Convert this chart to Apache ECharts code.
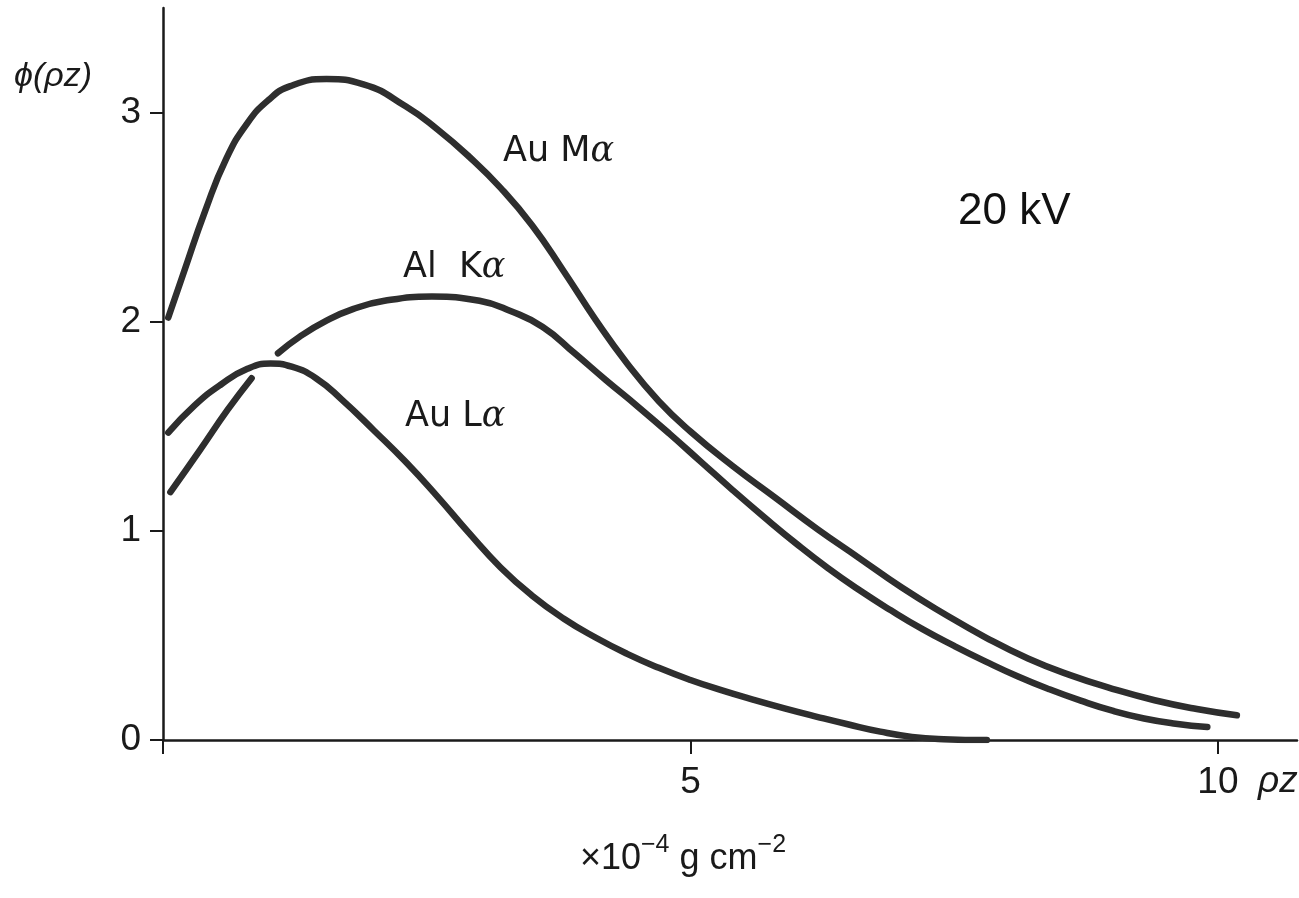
<!DOCTYPE html>
<html><head><meta charset="utf-8">
<script src="https://cdn.jsdelivr.net/npm/echarts@6/dist/echarts.min.js"></script>
<style>html,body{margin:0;padding:0;background:#fff}#c{width:1299px;height:898px}</style>
</head><body><div id="c"></div>
<script>
// depth rho*z (x10^-4 g cm^-2) vs phi(rho z)
const auMa = [[0.05,2.02],[0.2,2.24],[0.4,2.53],[0.6,2.78],[0.8,2.95],[1.0,3.06],[1.2,3.125],[1.55,3.16],[1.9,3.135],[2.3,3.03],[2.6,2.92],[2.9,2.79],[3.2,2.64],[3.5,2.46],[3.8,2.24],[4.1,2.01],[4.4,1.80],[4.7,1.62],[5.0,1.475],[5.4,1.31],[5.8,1.16],[6.2,1.01],[6.6,0.87],[7.0,0.73],[7.4,0.605],[7.8,0.49],[8.2,0.39],[8.6,0.31],[9.0,0.245],[9.4,0.19],[9.8,0.148],[10.18,0.118]];
const alKaNear = [[0.07,1.185],[0.35,1.386],[0.61,1.577],[0.84,1.73]];
const alKa = [[1.09,1.849],[1.3,1.93],[1.55,2.005],[1.8,2.06],[2.1,2.10],[2.55,2.12],[3.0,2.10],[3.3,2.05],[3.6,1.975],[3.9,1.85],[4.2,1.72],[4.5,1.595],[4.8,1.465],[5.1,1.33],[5.4,1.195],[5.7,1.065],[6.0,0.94],[6.3,0.823],[6.6,0.717],[6.9,0.62],[7.2,0.53],[7.5,0.45],[7.8,0.375],[8.1,0.305],[8.4,0.243],[8.7,0.188],[9.0,0.14],[9.3,0.103],[9.6,0.078],[9.9,0.062]];
const auLa = [[0.05,1.47],[0.3,1.60],[0.55,1.70],[0.8,1.775],[1.02,1.80],[1.22,1.785],[1.45,1.73],[1.7,1.625],[2.0,1.48],[2.3,1.33],[2.6,1.165],[2.9,0.99],[3.2,0.825],[3.5,0.69],[3.8,0.58],[4.1,0.49],[4.4,0.412],[4.7,0.345],[5.0,0.287],[5.3,0.237],[5.6,0.192],[5.9,0.150],[6.2,0.111],[6.5,0.074],[6.8,0.040],[7.1,0.015],[7.4,0.004],[7.81,0.0]];
const xTickValues = [0,5,10];
const xLabelValues = [5,10];
const yTickValues = [0,1,2,3];
const yLabelValues = [0,1,2,3];

const chart = echarts.init(document.getElementById('c'), null, {renderer:'canvas'});
const curveStyle = {color:'#2e2e2e', width:6.5, cap:'round', join:'round'};
function curve(name, data){
  return {type:'line', name, data, smooth:0.5, showSymbol:false, symbol:'none',
    lineStyle:curveStyle, itemStyle:{color:'#2e2e2e'}, z:3, animation:false};
}
const lab = {fontFamily:'DejaVu Sans', fontSize:35, fill:'#1a1a1a'};
const greek = {fontFamily:'DejaVu Serif', fontStyle:'italic', fontSize:35, fill:'#1a1a1a'};
chart.setOption({
  animation:false,
  backgroundColor:'#fff',
  grid:{left:163, right:2, top:8, bottom:158, containLabel:false},
  xAxis:{type:'value', min:0, max:10.75,
    axisLine:{show:true, onZero:false, lineStyle:{color:'#1a1a1a', width:2.5}},
    axisTick:{show:true, customValues:xTickValues, length:14, lineStyle:{color:'#1a1a1a', width:2}},
    axisLabel:{show:true, customValues:xLabelValues, margin:24, fontSize:37, color:'#1a1a1a', fontFamily:'Liberation Sans'},
    splitLine:{show:false}},
  yAxis:{type:'value', min:0, max:3.5,
    axisLine:{show:true, onZero:false, lineStyle:{color:'#1a1a1a', width:2.5}},
    axisTick:{show:true, customValues:yTickValues, length:13, lineStyle:{color:'#1a1a1a', width:2}},
    axisLabel:{show:true, customValues:yLabelValues, margin:22, fontSize:37, color:'#1a1a1a', fontFamily:'Liberation Sans'},
    splitLine:{show:false}},
  series:[curve('Au Mα', auMa), curve('Al Kα', alKa), curve('Al Kα near', alKaNear), curve('Au Lα', auLa)],
  graphic:[
    {type:'text', style:{x:503, y:152, text:'{a|Au M}{g|α}', verticalAlign:'middle', rich:{a:lab, g:greek}}},
    {type:'text', style:{x:403, y:268, text:'{a|Al  K}{g|α}', verticalAlign:'middle', rich:{a:lab, g:greek}}},
    {type:'text', style:{x:405, y:417, text:'{a|Au L}{g|α}', verticalAlign:'middle', rich:{a:lab, g:greek}}},
    {type:'text', style:{x:958, y:212, text:'20 kV', verticalAlign:'middle', font:'44px "Liberation Sans"', fill:'#111'}},
    {type:'text', style:{x:14, y:77, text:'ϕ(ρz)', verticalAlign:'middle', font:'italic 34px "Liberation Sans"', fill:'#1a1a1a'}},
    {type:'text', style:{x:1258, y:782, text:'ρz', verticalAlign:'middle', font:'italic 37px "Liberation Sans"', fill:'#1a1a1a'}},
    {type:'text', style:{x:683, y:855, text:'{a|×10}{s|−4}{a| g cm}{s|−2}', align:'center', verticalAlign:'middle',
      rich:{a:{fontFamily:'Liberation Sans', fontSize:36, fill:'#1a1a1a', verticalAlign:'bottom', lineHeight:44},
            s:{fontFamily:'Liberation Sans', fontSize:25, fill:'#1a1a1a', verticalAlign:'top', lineHeight:44}}}}
  ]
});
</script></body></html>
